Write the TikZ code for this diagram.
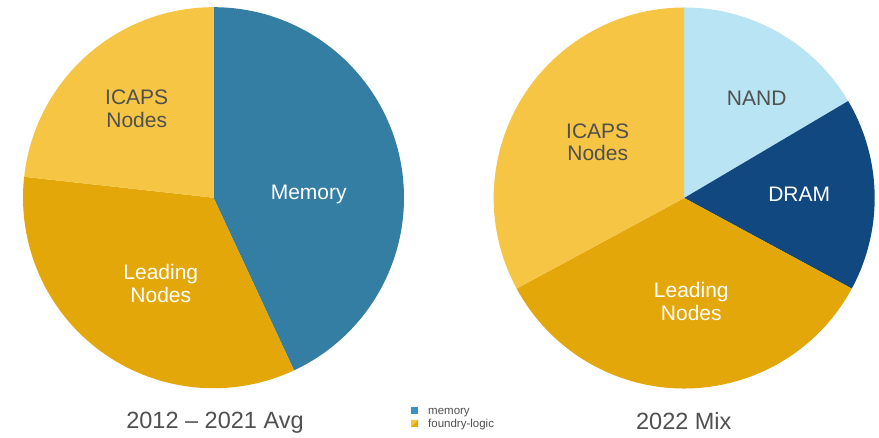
\documentclass[tikz,border=0pt]{standalone}
\usepackage{fontspec}
\setmainfont{Liberation Sans}

\definecolor{memblue}{HTML}{347DA3}
\definecolor{memlegend}{HTML}{3B8FC2}
\definecolor{icapsyellow}{HTML}{F6C544}
\definecolor{leadgold}{HTML}{E3A70A}
\definecolor{nandblue}{HTML}{B8E4F3}
\definecolor{dramblue}{HTML}{124880}
\definecolor{txtgray}{HTML}{505050}

% one wedge of a pie: centre, start angle, end angle, colour
\newcommand{\pieslice}[4]{%
  \fill[#4] (#1) -- ++(#2:\pieR) arc[start angle=#2, end angle=#3, radius=\pieR] -- cycle;}
\newcommand{\pieR}{190.5}

\tikzset{
  pielabel/.style={font=\fontsize{21}{22.5}\selectfont, align=center, inner sep=0pt},
  darklabel/.style={pielabel, text=txtgray},
  lightlabel/.style={pielabel, text=white},
  piecaption/.style={font=\fontsize{23.5}{27}\selectfont, text=txtgray, anchor=base, inner sep=0pt},
  legendtext/.style={font=\fontsize{11.5}{13}\selectfont, text=txtgray, anchor=base west, inner sep=0pt},
  swatch/.style={minimum size=7pt, inner sep=0pt, anchor=south west}
}

\begin{document}
\begin{tikzpicture}[x=1pt,y=1pt]
\useasboundingbox (0,0) rectangle (879,438);
\fill[white] (0,0) rectangle (879,438);

\coordinate (pieA) at (213.5,240.3);
\coordinate (pieB) at (684.2,240.0);

% 2012-2021 average
\pieslice{pieA}{90}{-65}{memblue}
\pieslice{pieA}{-65}{-186.3}{leadgold}
\pieslice{pieA}{173.7}{90}{icapsyellow}

\node[darklabel]  (aIcaps) at (136.7,329.3) {ICAPS\\Nodes};
\node[lightlabel, anchor=base] (aMem) at (308.7,238.7) {Memory};
\node[lightlabel] (aLead) at (160.8,154.3) {Leading\\Nodes};
\node[piecaption] (aCap) at (215,9) {2012 – 2021 Avg};

% 2022 mix
\pieslice{pieB}{90}{30.6}{nandblue}
\pieslice{pieB}{30.6}{-28.4}{dramblue}
\pieslice{pieB}{-28.4}{-151.6}{leadgold}
\pieslice{pieB}{208.4}{90}{icapsyellow}

\node[darklabel, anchor=base] (bNand) at (756.7,332) {NAND};
\node[darklabel]  (bIcaps) at (597.7,295.8) {ICAPS\\Nodes};
\node[lightlabel, anchor=base] (bDram) at (799.2,236.3) {DRAM};
\node[lightlabel] (bLead) at (691.3,136.7) {Leading\\Nodes};
\node[piecaption] (bCap) at (683.8,8.7) {2022 Mix};

% legend
\node[swatch, fill=memlegend] (swMem) at (411,24) {};
\node[legendtext] (lgMem) at (428,23.3) {memory};
\fill[icapsyellow] (411,11) -- (418,18) -- (411,18) -- cycle;
\fill[leadgold] (411,11) -- (418,11) -- (418,18) -- cycle;
\node[legendtext] (lgLogic) at (428,10.7) {foundry-logic};
\end{tikzpicture}
\end{document}
